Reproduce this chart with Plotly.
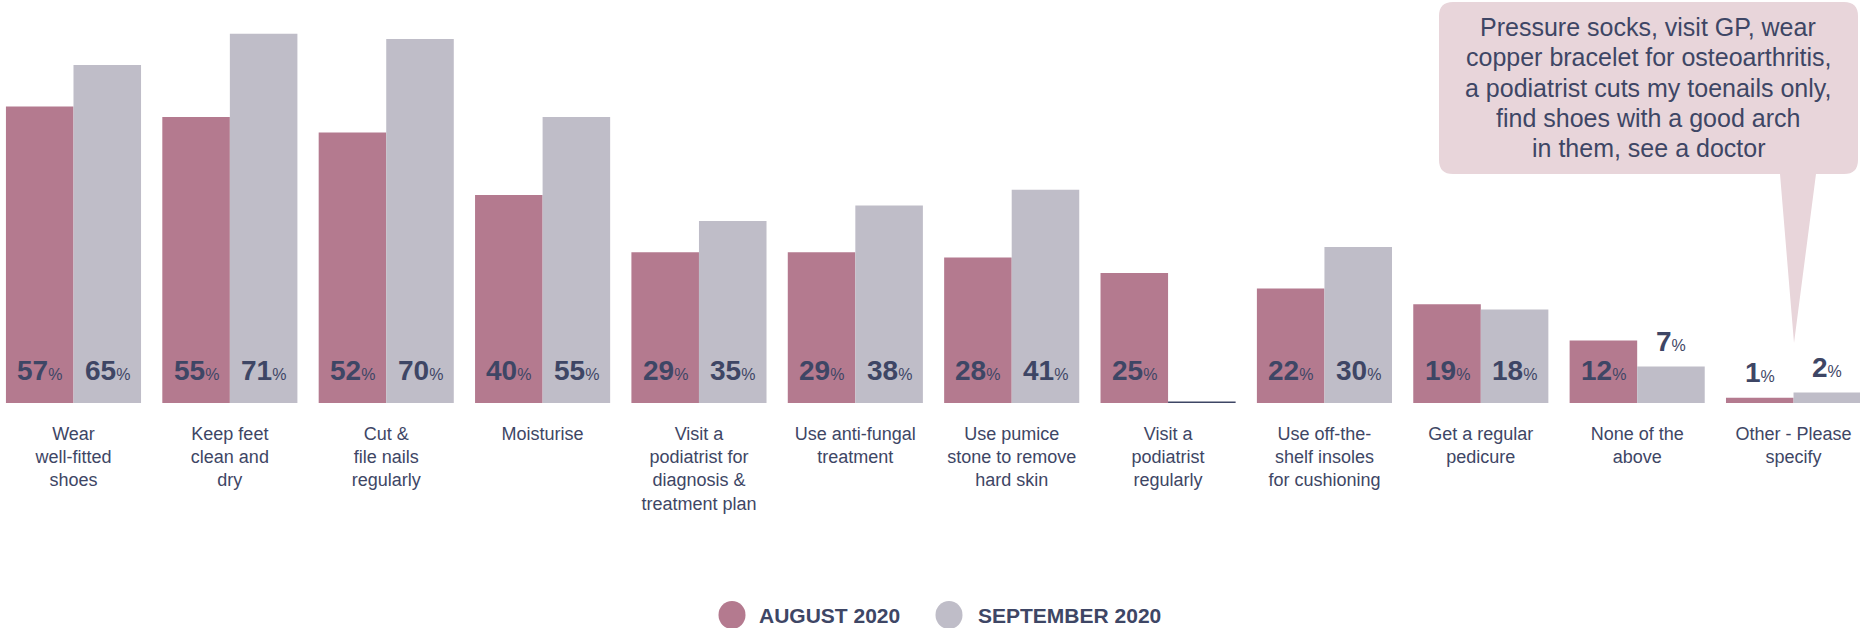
import plotly.graph_objects as go

# ---------------- data ----------------
categories = [
    "Wear<br>well-fitted<br>shoes",
    "Keep feet<br>clean and<br>dry",
    "Cut &amp;<br>file nails<br>regularly",
    "Moisturise",
    "Visit a<br>podiatrist for<br>diagnosis &amp;<br>treatment plan",
    "Use anti-fungal<br>treatment",
    "Use pumice<br>stone to remove<br>hard skin",
    "Visit a<br>podiatrist<br>regularly",
    "Use off-the-<br>shelf insoles<br>for cushioning",
    "Get a regular<br>pedicure",
    "None of the<br>above",
    "Other - Please<br>specify",
]
august_2020 = [57, 55, 52, 40, 29, 29, 28, 25, 22, 19, 12, 1]
september_2020 = [65, 71, 70, 55, 35, 38, 41, None, 30, 18, 7, 2]
series_names = ["AUGUST 2020", "SEPTEMBER 2020"]
callout_lines = [
    "Pressure socks, visit GP, wear",
    "copper bracelet for osteoarthritis,",
    "a podiatrist cuts my toenails only,",
    "find shoes with a good arch",
    "in them, see a doctor",
]

# ---------------- style ----------------
W, H = 1860, 628
MB = 225
PLOT_H = H - MB
FONT = "Liberation Sans, Arial, Helvetica, sans-serif"
AUG_COLOR = "#b47a8f"
SEP_COLOR = "#bfbdc8"
TEXT = "#3e4665"
CALLOUT = "#e8d5da"
BARGAP = 0.136
BAR_W = (1 - BARGAP) / 2

idx = list(range(len(categories)))

fig = go.Figure()
fig.add_bar(x=idx, y=august_2020, name=series_names[0], marker_color=AUG_COLOR,
            marker_line_width=0, showlegend=False, hoverinfo="skip")
fig.add_bar(x=idx, y=september_2020, name=series_names[1], marker_color=SEP_COLOR,
            marker_line_width=0, showlegend=False, hoverinfo="skip")

annotations = []
shapes = []

# value labels
for vals, sign in ((august_2020, -1), (september_2020, 1)):
    for i, v in zip(idx, vals):
        if v is None:
            x0 = i if sign > 0 else i - BAR_W
            shapes.append(dict(type="line", xref="x", yref="y", x0=x0, x1=x0 + BAR_W,
                               y0=0, y1=0, line=dict(color=TEXT, width=3)))
            continue
        txt = f"<b>{v}</b><span style='font-size:16px'>%</span>"
        if v >= 10:
            yy, ys = 0, 33
        else:
            yy, ys = v, 25
        annotations.append(dict(x=i + sign * BAR_W / 2, y=yy, xref="x", yref="y",
                                yshift=ys, text=txt, showarrow=False,
                                xanchor="center", yanchor="middle",
                                font=dict(family=FONT, size=28, color=TEXT)))


def P(x, y):
    return f"{x / W:.5f},{(PLOT_H - y) / PLOT_H:.5f}"


# callout bubble
L, R, T, B, r = 1439, 1858, 2, 174, 14
tx1, tx2, tipx, tipy = 1780, 1816, 1794, 343
path = (f"M{P(L + r, T)} L{P(R - r, T)} Q{P(R, T)} {P(R, T + r)} "
        f"L{P(R, B - r)} Q{P(R, B)} {P(R - r, B)} L{P(tx2, B)} L{P(tipx, tipy)} "
        f"L{P(tx1, B)} L{P(L + r, B)} Q{P(L, B)} {P(L, B - r)} L{P(L, T + r)} "
        f"Q{P(L, T)} {P(L + r, T)} Z")
shapes.append(dict(type="path", xref="paper", yref="paper", path=path,
                   fillcolor=CALLOUT, line=dict(width=0), layer="above"))
for k, line in enumerate(callout_lines):
    yc = 27 + 30.3 * k
    annotations.append(dict(x=1648 / W, y=(PLOT_H - yc) / PLOT_H, xref="paper", yref="paper",
                            text=line, showarrow=False,
                            xanchor="center", yanchor="middle", align="center",
                            font=dict(family=FONT, size=25, color=TEXT)))

# custom legend
leg_y = (PLOT_H - 615) / PLOT_H
for name, color, cx, tx in ((series_names[0], AUG_COLOR, 732, 757),
                            (series_names[1], SEP_COLOR, 949, 976)):
    shapes.append(dict(type="circle", xref="paper", yref="paper",
                       xsizemode="pixel", ysizemode="pixel",
                       xanchor=cx / W, yanchor=leg_y,
                       x0=-13.5, x1=13.5, y0=-14, y1=14,
                       fillcolor=color, line=dict(width=0)))
    annotations.append(dict(x=tx / W, y=leg_y, xref="paper", yref="paper",
                            text=f"<b>{name}</b>", showarrow=False,
                            xanchor="left", yanchor="middle",
                            font=dict(family=FONT, size=21, color=TEXT)))

fig.update_layout(
    width=W, height=H,
    margin=dict(l=0, r=0, t=0, b=MB, pad=0),
    barmode="group", bargap=BARGAP, bargroupgap=0,
    plot_bgcolor="white", paper_bgcolor="white",
    showlegend=False,
    annotations=annotations, shapes=shapes,
    xaxis=dict(range=[-0.47, 11.425], tickvals=idx, ticktext=categories,
               showgrid=False, zeroline=False, showline=False,
               ticks="outside", ticklen=14, tickcolor="rgba(0,0,0,0)",
               tickfont=dict(family=FONT, size=18, color=TEXT), tickangle=0),
    yaxis=dict(range=[0, 77.5], visible=False, showgrid=False, zeroline=False),
)

fig.write_html("out.html", config={"displayModeBar": False},
               post_script="document.body.style.margin='0';document.body.style.overflow='hidden';")
